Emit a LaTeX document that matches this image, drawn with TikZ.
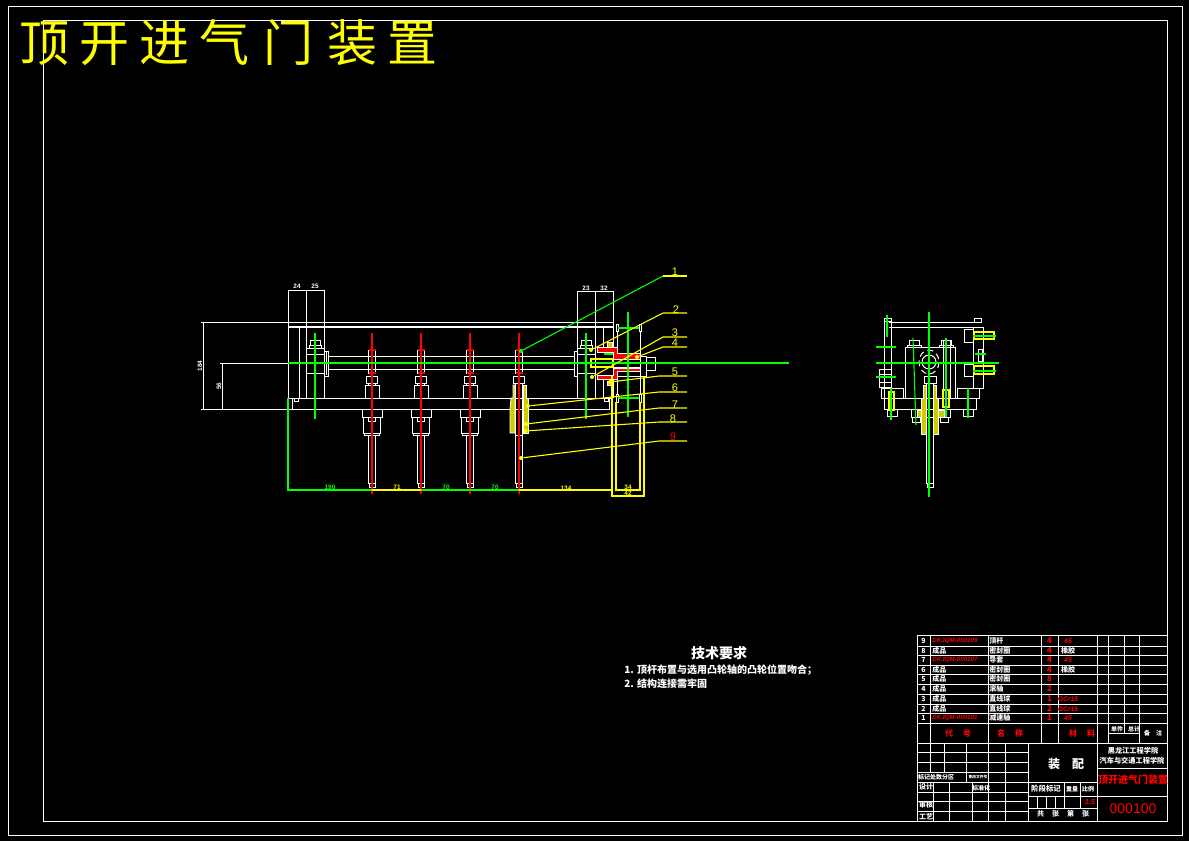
\documentclass[tikz,border=0pt]{standalone}
\usepackage{fontspec}
\newfontfamily\cjk{Noto Sans CJK SC}
\setsansfont{Liberation Sans}
\definecolor{cadgreen}{RGB}{0,255,0}
\definecolor{cadyellow}{RGB}{255,255,0}
\definecolor{cadred}{RGB}{255,0,0}
\newcommand*{\stemx}{3.5}
\newcommand*{\topy}{322}
\newcommand*{\lowy}{409}
\newcommand*{\rodup}{356}
\newcommand*{\rodlo}{369}
\newcommand*{\redmat}[1]{\color{cadred}\sffamily\itshape\bfseries\fontsize{3.4}{3.4}\selectfont #1}
\tikzset{
    part/.style    = {draw=white, line width=0.5pt},
    axis/.style    = {draw=cadgreen, line width=0.55pt},
    redaxis/.style = {draw=cadred, line width=0.55pt},
    ydim/.style    = {draw=cadyellow, line width=0.55pt},
    grid/.style    = {draw=white, line width=0.5pt},
    leader/.style  = {draw=cadyellow, line width=0.55pt},
    greenleader/.style = {draw=cadgreen, line width=0.55pt},
    dotmark/.style = {circle, fill=cadyellow, inner sep=0pt, minimum size=2pt},
    greendot/.style = {circle, fill=cadgreen, inner sep=0pt, minimum size=2pt},
    dimtext/.style = {inner sep=0pt, text=white, font=\sffamily\fontsize{3.2}{3.2}\selectfont\bfseries},
    numtext/.style = {inner sep=0pt, text=cadyellow, font=\sffamily\fontsize{5.5}{5.5}\selectfont},
    cell/.style    = {inner sep=0pt, text=white, font=\cjk\bfseries\fontsize{3.5}{3.5}\selectfont},
    redcell/.style = {inner sep=0pt, text=cadred, font=\cjk\bfseries\fontsize{4}{4}\selectfont},
    codecell/.style = {inner sep=0pt, text=cadred, font=\sffamily\itshape\bfseries\fontsize{3.1}{3.1}\selectfont},
    hatchy/.style  = {draw=white, line width=0.4pt, fill=cadyellow!80!black},
    hatchr/.style  = {draw=white, line width=0.4pt, fill=cadred},
}
% one valve below the rail, axis at #1
\newcommand*{\valveunit}[1]{
    \draw [part] (#1-\stemx,350) rectangle (#1+\stemx,373);
    \draw [part] (#1-5.5,376) rectangle (#1+5.5,383);
    \draw [part] (#1-3.5,383) -- (#1-3.5,385) (#1+3.5,383) -- (#1+3.5,385);
    \draw [part] (#1-\stemx,435) rectangle (#1+\stemx,483);
    \draw [part] (#1-3,483) rectangle (#1+3,487);
    \draw [redaxis] (#1-3.5,350) -- (#1+3.5,350) (#1-3.5,373) -- (#1+3.5,373);
}
\newcommand*{\coverunit}[1]{
    \draw [part] (#1-7,398) -- (#1-7,385) -- (#1+7,385) -- (#1+7,398);
    \draw [part] (#1-10,409) -- (#1-10,417) -- (#1+10,417) -- (#1+10,409);
    \draw [part] (#1-8.5,417) rectangle (#1+8.5,433);
    \draw [part] (#1-\stemx,417) rectangle (#1+\stemx,421.5);
    \draw [part] (#1-7.5,433) rectangle (#1+7.5,435);
    \draw [redaxis] (#1,333) -- (#1,494);
}
% row of the parts list: y, number, code, name, count, material
\newcommand*{\partrow}[7]{
    \node [cell] (no#2) at (923.5,#1) {#2};
    \node [#3, anchor=west] (code#2) at (932,#1) {#4};
    \node [cell, anchor=west] (name#2) at (989,#1) {#5};
    \node [redcell] (qty#2) at (1049.5,#1) {#6};
    \node [cell] (mat#2) at (1068,#1) {#7};
}
\begin{document}
\begin{tikzpicture}[x=0.5pt,y=-0.5pt]
    \fill [black] (0,0) rectangle (1189,841);
    \useasboundingbox (0,0) rectangle (1189,841);
    \draw [grid] (8,6) rectangle (1182,835);
    \draw [grid] (43,20) rectangle (1167,821);
    \node [anchor=west, inner sep=0pt, text=cadyellow, font=\cjk\fontsize{25}{25}\selectfont] (drawingtitle) at (19,43)
        {顶\hspace{5pt}开\hspace{5pt}进\hspace{5pt}气\hspace{7pt}门\hspace{7pt}装\hspace{5pt}置};

    % front view
    \draw [part] (288,290) -- (324,290) (288,290) -- (288,398) (306,290) -- (306,398) (324,290) -- (324,398);
    \draw [part] (577,291) -- (613,291) (577,291) -- (577,398) (595,291) -- (595,398) (613,291) -- (613,347);
    \draw [part] (201,\topy) -- (613,\topy);
    \draw [part, line width=1pt] (288,327) -- (613,327);
    \draw [part] (201,\lowy) -- (609,\lowy) -- (609,398);
    \draw [part] (288,398) -- (613,398);
    \draw [part] (220,363) -- (288,363);
    \draw [part] (203,\topy) -- (203,\lowy);
    \draw [part] (222,363) -- (222,\lowy);
    \node [dimtext, rotate=90] (dimheight) at (200,366) {184};
    \node [dimtext, rotate=90] (dimaxis) at (219,386) {56};
    \node [dimtext] (dimleftA) at (297,286) {24};
    \node [dimtext] (dimleftB) at (315,286) {25};
    \node [dimtext] (dimrightA) at (586,288) {23};
    \node [dimtext] (dimrightB) at (604,288) {32};
    \draw [part] (299,327) -- (299,398);
    \draw [part] (294,398) rectangle (298,401);
    \draw [part] (292,398) -- (292,409);
    \draw [part] (604,398) rectangle (608,401);
    \draw [part] (306,348) -- (324,348) (306,354) -- (324,354) (306,373) -- (324,373);
    \draw [part] (310,340) rectangle (320,345);
    \draw [part] (309,345) rectangle (321,348);
    \draw [part, fill=black] (324,351) rectangle (328,376);
    \draw [part] (326,352) -- (326,375);
    \draw [part] (577,348) -- (596,348) (577,354) -- (596,354) (577,373) -- (596,373);
    \draw [part] (581,340) rectangle (591,345);
    \draw [part] (580,345) rectangle (592,348);
    \draw [part, fill=black] (574,351) rectangle (577,376);
    \draw [part] (328,\rodup) -- (574,\rodup) (328,\rodlo) -- (574,\rodlo);
    \valveunit{372}
    \valveunit{421}
    \valveunit{470}
    \coverunit{372}
    \coverunit{421}
    \coverunit{470}

    % valve with the section
    \draw [hatchy] (511,398) -- (513,398) -- (513,385) -- (515,385) -- (515,433) -- (510,433) -- (510,409) -- cycle;
    \draw [hatchy] (526,398) -- (526,385) -- (523,385) -- (523,433) -- (528,433) -- (528,398) -- cycle;
    \draw [part] (515,385) -- (515,398) (522.5,385) -- (522.5,398);
    \valveunit{519}
    \draw [part] (515,385) -- (515,435) (522.5,385) -- (522.5,435);
    \draw [redaxis] (519,333) -- (519,494);

    % right end with the cam follower
    \draw [part] (603,327) -- (603,347) (603,379) -- (603,398);
    \draw [part] (613,379) -- (613,398);
    \draw [hatchr] (597,347) -- (617,347) -- (617,353) -- (640,353) -- (640,359) -- (613,359) -- (613,352) -- (597,352) -- cycle;
    \draw [hatchr] (597,375) -- (613,375) -- (613,368) -- (640,368) -- (640,371) -- (617,371) -- (617,379) -- (597,379) -- cycle;
    \draw [ydim] (591,359) rectangle (613,367);
    \draw [part] (613,359) -- (640,359) (613,367) -- (640,367);
    \draw [part] (617,331) -- (617,347) (617,379) -- (617,394) (640,331) -- (640,356) (640,376) -- (640,394);
    \draw [part] (640,356) rectangle (646,376);
    \draw [part] (646,357) rectangle (655,370);
    \draw [part] (617,371) rectangle (640,376);
    \draw [part] (616,324) rectangle (618,331);
    \draw [part] (639,324) rectangle (641,331);
    \draw [part] (616,394) rectangle (618,402);
    \draw [part] (639,394) rectangle (641,402);
    \draw [hatchy] (607,342) rectangle (612,347);
    \draw [hatchy] (607,381) rectangle (613,385);
    \draw [axis] (618,328) -- (639,328);
    \draw [axis] (618,398) -- (639,398);
    \draw [axis] (604,354) -- (613,354);
    \draw [axis] (628,312) -- (628,417);
    \draw [axis] (586,333) -- (586,419);
    \draw [axis] (315,333) -- (315,419);
    \draw [axis] (288,363) -- (789,363);

    % dimensions below
    \draw [axis] (288,398) -- (288,491);
    \draw [axis] (288,490) -- (372,490);
    \draw [ydim] (372,490) -- (421,490);
    \draw [axis] (421,490) -- (519,490);
    \draw [ydim] (519,490) -- (612,490);
    \draw [ydim] (612,376) -- (612,497) (644,376) -- (644,497);
    \draw [ydim] (616,402) -- (616,491) (640,402) -- (640,491);
    \draw [ydim] (616,490) -- (640,490);
    \draw [ydim] (612,496) -- (644,496);
    \node [dimtext, text=cadgreen] (dimA) at (330,487) {190};
    \node [dimtext, text=cadyellow] (dimB) at (397,487) {71};
    \node [dimtext, text=cadgreen] (dimC) at (446,487) {70};
    \node [dimtext, text=cadgreen] (dimD) at (495,487) {70};
    \node [dimtext, text=cadyellow] (dimE) at (566,488) {134};
    \node [dimtext, text=cadyellow] (dimF) at (628,487) {34};
    \node [dimtext, text=cadyellow] (dimG) at (628,493) {42};

    % leaders
    \node [greendot] (dotone) at (521,351) {};
    \node [dotmark] (dottwo) at (591,350) {};
    \node [dotmark] (dotthree) at (592,377) {};
    \node [dotmark] (dotfour) at (637,357) {};
    \node [dotmark] (dotfive) at (610,382) {};
    \node [dotmark] (dotsix) at (528,406) {};
    \node [dotmark] (dotseven) at (526,424) {};
    \node [dotmark] (doteight) at (525,431) {};
    \node [dotmark] (dotnine) at (521,458) {};
    \coordinate (kneeone) at (663,276);
    \coordinate (kneetwo) at (663,313);
    \coordinate (kneethree) at (663,337);
    \coordinate (kneefour) at (663,347);
    \coordinate (kneefive) at (659,376);
    \coordinate (kneesix) at (659,392);
    \coordinate (kneeseven) at (659,408);
    \coordinate (kneeeight) at (659,422);
    \coordinate (kneenine) at (659,441);
    \coordinate (endone) at (687,276);
    \coordinate (endtwo) at (687,313);
    \coordinate (endthree) at (687,337);
    \coordinate (endfour) at (687,347);
    \coordinate (endfive) at (687,376);
    \coordinate (endsix) at (687,392);
    \coordinate (endseven) at (687,408);
    \coordinate (endeight) at (687,422);
    \coordinate (endnine) at (687,441);
    \draw [greenleader] (dotone) -- (kneeone);
    \draw [leader] (kneeone) -- (endone);
    \draw [leader] (dottwo) -- (kneetwo) -- (endtwo);
    \draw [leader] (dotthree) -- (kneethree) -- (endthree);
    \draw [leader] (dotfour) -- (kneefour) -- (endfour);
    \draw [leader] (dotfive) -- (kneefive) -- (endfive);
    \draw [leader] (dotsix) -- (kneesix) -- (endsix);
    \draw [leader] (dotseven) -- (kneeseven) -- (endseven);
    \draw [leader] (doteight) -- (kneeeight) -- (endeight);
    \draw [leader] (dotnine) -- (kneenine) -- (endnine);
    \node [numtext] (lblone) at (675,272) {1};
    \node [numtext] (lbltwo) at (676,310) {2};
    \node [numtext] (lblthree) at (675,333) {3};
    \node [numtext] (lblfour) at (675,343) {4};
    \node [numtext] (lblfive) at (675,372) {5};
    \node [numtext] (lblsix) at (675,388) {6};
    \node [numtext] (lblseven) at (675,405) {7};
    \node [numtext] (lbleight) at (673,419) {8};
    \node [numtext, text=cadred] (lblnine) at (673,437) {9};

    % side view
    \draw [part] (889,322) -- (982,322) (889,327) -- (973,327);
    \draw [part] (884,321) -- (884,398) (891,321) -- (891,388);
    \draw [part] (884,318) rectangle (891,321);
    \draw [part] (974,318) rectangle (981,322);
    \draw [part] (973,327) rectangle (983,388);
    \draw [part] (905,347) rectangle (955,398);
    \draw [part] (909,340) rectangle (919,345);
    \draw [part] (907,345) rectangle (921,347);
    \draw [part] (941,340) rectangle (951,345);
    \draw [part] (939,345) rectangle (953,347);
    \draw [part, densely dashed] (929,362) ellipse (10 and 12);
    \draw [part] (929,362) circle (7);
    \draw [part] (879,369) rectangle (891,387);
    \draw [part] (879,374) -- (891,374) (879,382) -- (891,382);
    \draw [part] (881,388) rectangle (903,398);
    \draw [part] (957,388) rectangle (979,398);
    \draw [part] (884,398) rectangle (976,409);
    \draw [part] (887,409) rectangle (897,416);
    \draw [part] (963,409) rectangle (973,416);
    \draw [part] (911,409) rectangle (950,417);
    \draw [part] (912,417) rectangle (920,422);
    \draw [part] (940,417) rectangle (948,422);
    \draw [part] (943,340) rectangle (950,398);
    \draw [hatchy] (923,385) -- (926,385) -- (926,434) -- (921,434) -- (921,398) -- (923,398) -- cycle;
    \draw [hatchy] (936,385) -- (933,385) -- (933,434) -- (938,434) -- (938,398) -- (936,398) -- cycle;
    \draw [hatchy] (917,410) rectangle (921,417);
    \draw [hatchy] (938,410) rectangle (944,417);
    \draw [ydim] (943,390) rectangle (949,407);
    \draw [ydim] (889,392) rectangle (894,410);
    \draw [part] (924,376) rectangle (936,383);
    \draw [part] (926,383) rectangle (933,483);
    \draw [part] (927,483) rectangle (933,487);
    \draw [part] (964,329) rectangle (973,342);
    \draw [part] (964,364) rectangle (973,376);
    \draw [part] (978,349) rectangle (982,361);
    \draw [ydim] (974,332) rectangle (994,339);
    \draw [ydim] (974,366) rectangle (994,374);
    \draw [axis] (929,312) -- (929,497);
    \draw [axis] (876,347) -- (896,347) (876,363) -- (999,363) (876,377) -- (896,377);
    \draw [axis] (946,338) -- (946,417);
    \draw [axis] (913,338) -- (916,425);
    \draw [axis] (891,388) -- (891,420);
    \draw [axis] (968,388) -- (968,418);
    \draw [axis] (887,315) -- (887,337);
    \draw [axis] (973,336) -- (996,336) (973,371) -- (996,371) (975,354) -- (986,354);

    % requirements
    \node [cell, font=\cjk\bfseries\fontsize{7}{7}\selectfont] (reqhead) at (719,653) {技术要求};
    \node [cell, anchor=west, font=\cjk\bfseries\fontsize{5}{5}\selectfont] (reqone) at (624,670) {1. 顶杆布置与选用凸轮轴的凸轮位置吻合；};
    \node [cell, anchor=west, font=\cjk\bfseries\fontsize{5}{5}\selectfont] (reqtwo) at (624,684) {2. 结构连接需牢固};

    % parts list
    \draw [grid] (917,635) rectangle (1167,743);
    \draw [grid] (917,646) -- (1167,646) (917,655) -- (1167,655) (917,665) -- (1167,665);
    \draw [grid] (917,674) -- (1167,674) (917,684) -- (1167,684) (917,694) -- (1167,694);
    \draw [grid] (917,704) -- (1167,704) (917,713) -- (1167,713) (917,723) -- (1167,723);
    \draw [grid] (930,635) -- (930,743) (988,635) -- (988,743) (1041,635) -- (1041,743);
    \draw [grid] (1058,635) -- (1058,743) (1097,635) -- (1097,743) (1108,635) -- (1108,743);
    \draw [grid] (1124,635) -- (1124,733) (1139,635) -- (1139,743);
    \draw [grid] (1108,733) -- (1139,733);
    \partrow{641}{9}{codecell}{DKJQM-000109}{顶杆}{4}{\redmat{45}}
    \partrow{651}{8}{cell}{成品}{密封圈}{4}{橡胶}
    \partrow{660}{7}{codecell}{DKJQM-000107}{导套}{4}{\redmat{45}}
    \partrow{670}{6}{cell}{成品}{密封圈}{4}{橡胶}
    \partrow{679}{5}{cell}{成品}{密封圈}{8}{}
    \partrow{689}{4}{cell}{成品}{滚轴}{2}{}
    \partrow{699}{3}{cell}{成品}{直线球}{1}{\redmat{GCr15}}
    \partrow{709}{2}{cell}{成品}{直线球}{2}{\redmat{GCr15}}
    \partrow{718}{1}{codecell}{DKJQM-000101}{减速轴}{1}{\redmat{45}}
    \node [redcell] (headcode) at (958,733) {代\hspace{5pt}号};
    \node [redcell] (headname) at (1010,733) {名\hspace{5pt}称};
    \node [redcell] (headmat) at (1082,733) {材\hspace{5pt}料};
    \node [cell, font=\cjk\bfseries\fontsize{3}{3}\selectfont] (headunit) at (1117,729) {单件};
    \node [cell, font=\cjk\bfseries\fontsize{3}{3}\selectfont] (headsum) at (1134,729) {总计};
    \node [cell, font=\cjk\bfseries\fontsize{3}{3}\selectfont] (headnote) at (1153,733) {备\hspace{3pt}注};

    % title block
    \draw [grid] (917,743) rectangle (1167,821);
    \draw [grid] (917,752) -- (1028,752) (917,762) -- (1028,762) (917,772) -- (1028,772);
    \draw [grid] (917,782) -- (1028,782) (917,792) -- (1028,792) (917,801) -- (1028,801) (917,811) -- (1028,811);
    \draw [grid] (930,743) -- (930,772) (944,743) -- (944,772) (966,743) -- (966,782);
    \draw [grid] (933,782) -- (933,821) (949,782) -- (949,821) (972,782) -- (972,821);
    \draw [grid] (988,743) -- (988,821) (1005,743) -- (1005,821);
    \draw [grid] (1028,743) -- (1028,821) (1097,743) -- (1097,821);
    \draw [grid] (1028,782) -- (1097,782) (1028,796) -- (1097,796) (1028,808) -- (1097,808);
    \draw [grid] (1064,782) -- (1064,808) (1080,782) -- (1080,808);
    \draw [grid] (1037,796) -- (1037,808) (1046,796) -- (1046,808) (1055,796) -- (1055,808);
    \draw [grid] (1097,768) -- (1167,768) (1097,796) -- (1167,796);
    \node [cell, font=\cjk\bfseries\fontsize{3}{3}\selectfont] (markcell) at (936,777) {标记处数分区};
    \node [cell, font=\cjk\bfseries\fontsize{1.9}{1.9}\selectfont] (filecell) at (978,777) {更改文件号};
    \node [cell] (designcell) at (926,787) {设计};
    \node [cell, font=\cjk\bfseries\fontsize{3}{3}\selectfont] (standardcell) at (981,788) {标准化};
    \node [cell] (reviewcell) at (926,805) {审核};
    \node [cell] (craftcell) at (926,816.5) {工艺};
    \node [cell, font=\cjk\bfseries\fontsize{6}{6}\selectfont] (assemblycell) at (1066,764) {装\hspace{6pt}配};
    \node [cell, font=\cjk\bfseries\fontsize{3.7}{3.7}\selectfont] (stagecell) at (1046,789) {阶段标记};
    \node [cell, font=\cjk\bfseries\fontsize{3}{3}\selectfont] (weightcell) at (1072,789) {重量};
    \node [cell, font=\cjk\bfseries\fontsize{3}{3}\selectfont] (ratiocell) at (1088,789) {比例};
    \node [redcell, font=\sffamily\itshape\bfseries\fontsize{3.6}{3.6}\selectfont] (scalecell) at (1090,802) {1:5};
    \node [cell] (sheetcell) at (1063,814) {共\hspace{4pt}张\hspace{4pt}第\hspace{4pt}张};
    \node [cell, font=\cjk\bfseries\fontsize{3.6}{3.6}\selectfont] (schoolcell) at (1133,751) {黑龙江工程学院};
    \node [cell, font=\cjk\bfseries\fontsize{3.6}{3.6}\selectfont] (collegecell) at (1132,761) {汽车与交通工程学院};
    \node [redcell, font=\cjk\bfseries\fontsize{5}{5}\selectfont] (namecell) at (1133,780) {顶开进气门装置};
    \node [redcell, font=\sffamily\fontsize{7}{7}\selectfont] (numbercell) at (1133,809) {000100};
\end{tikzpicture}
\end{document}
